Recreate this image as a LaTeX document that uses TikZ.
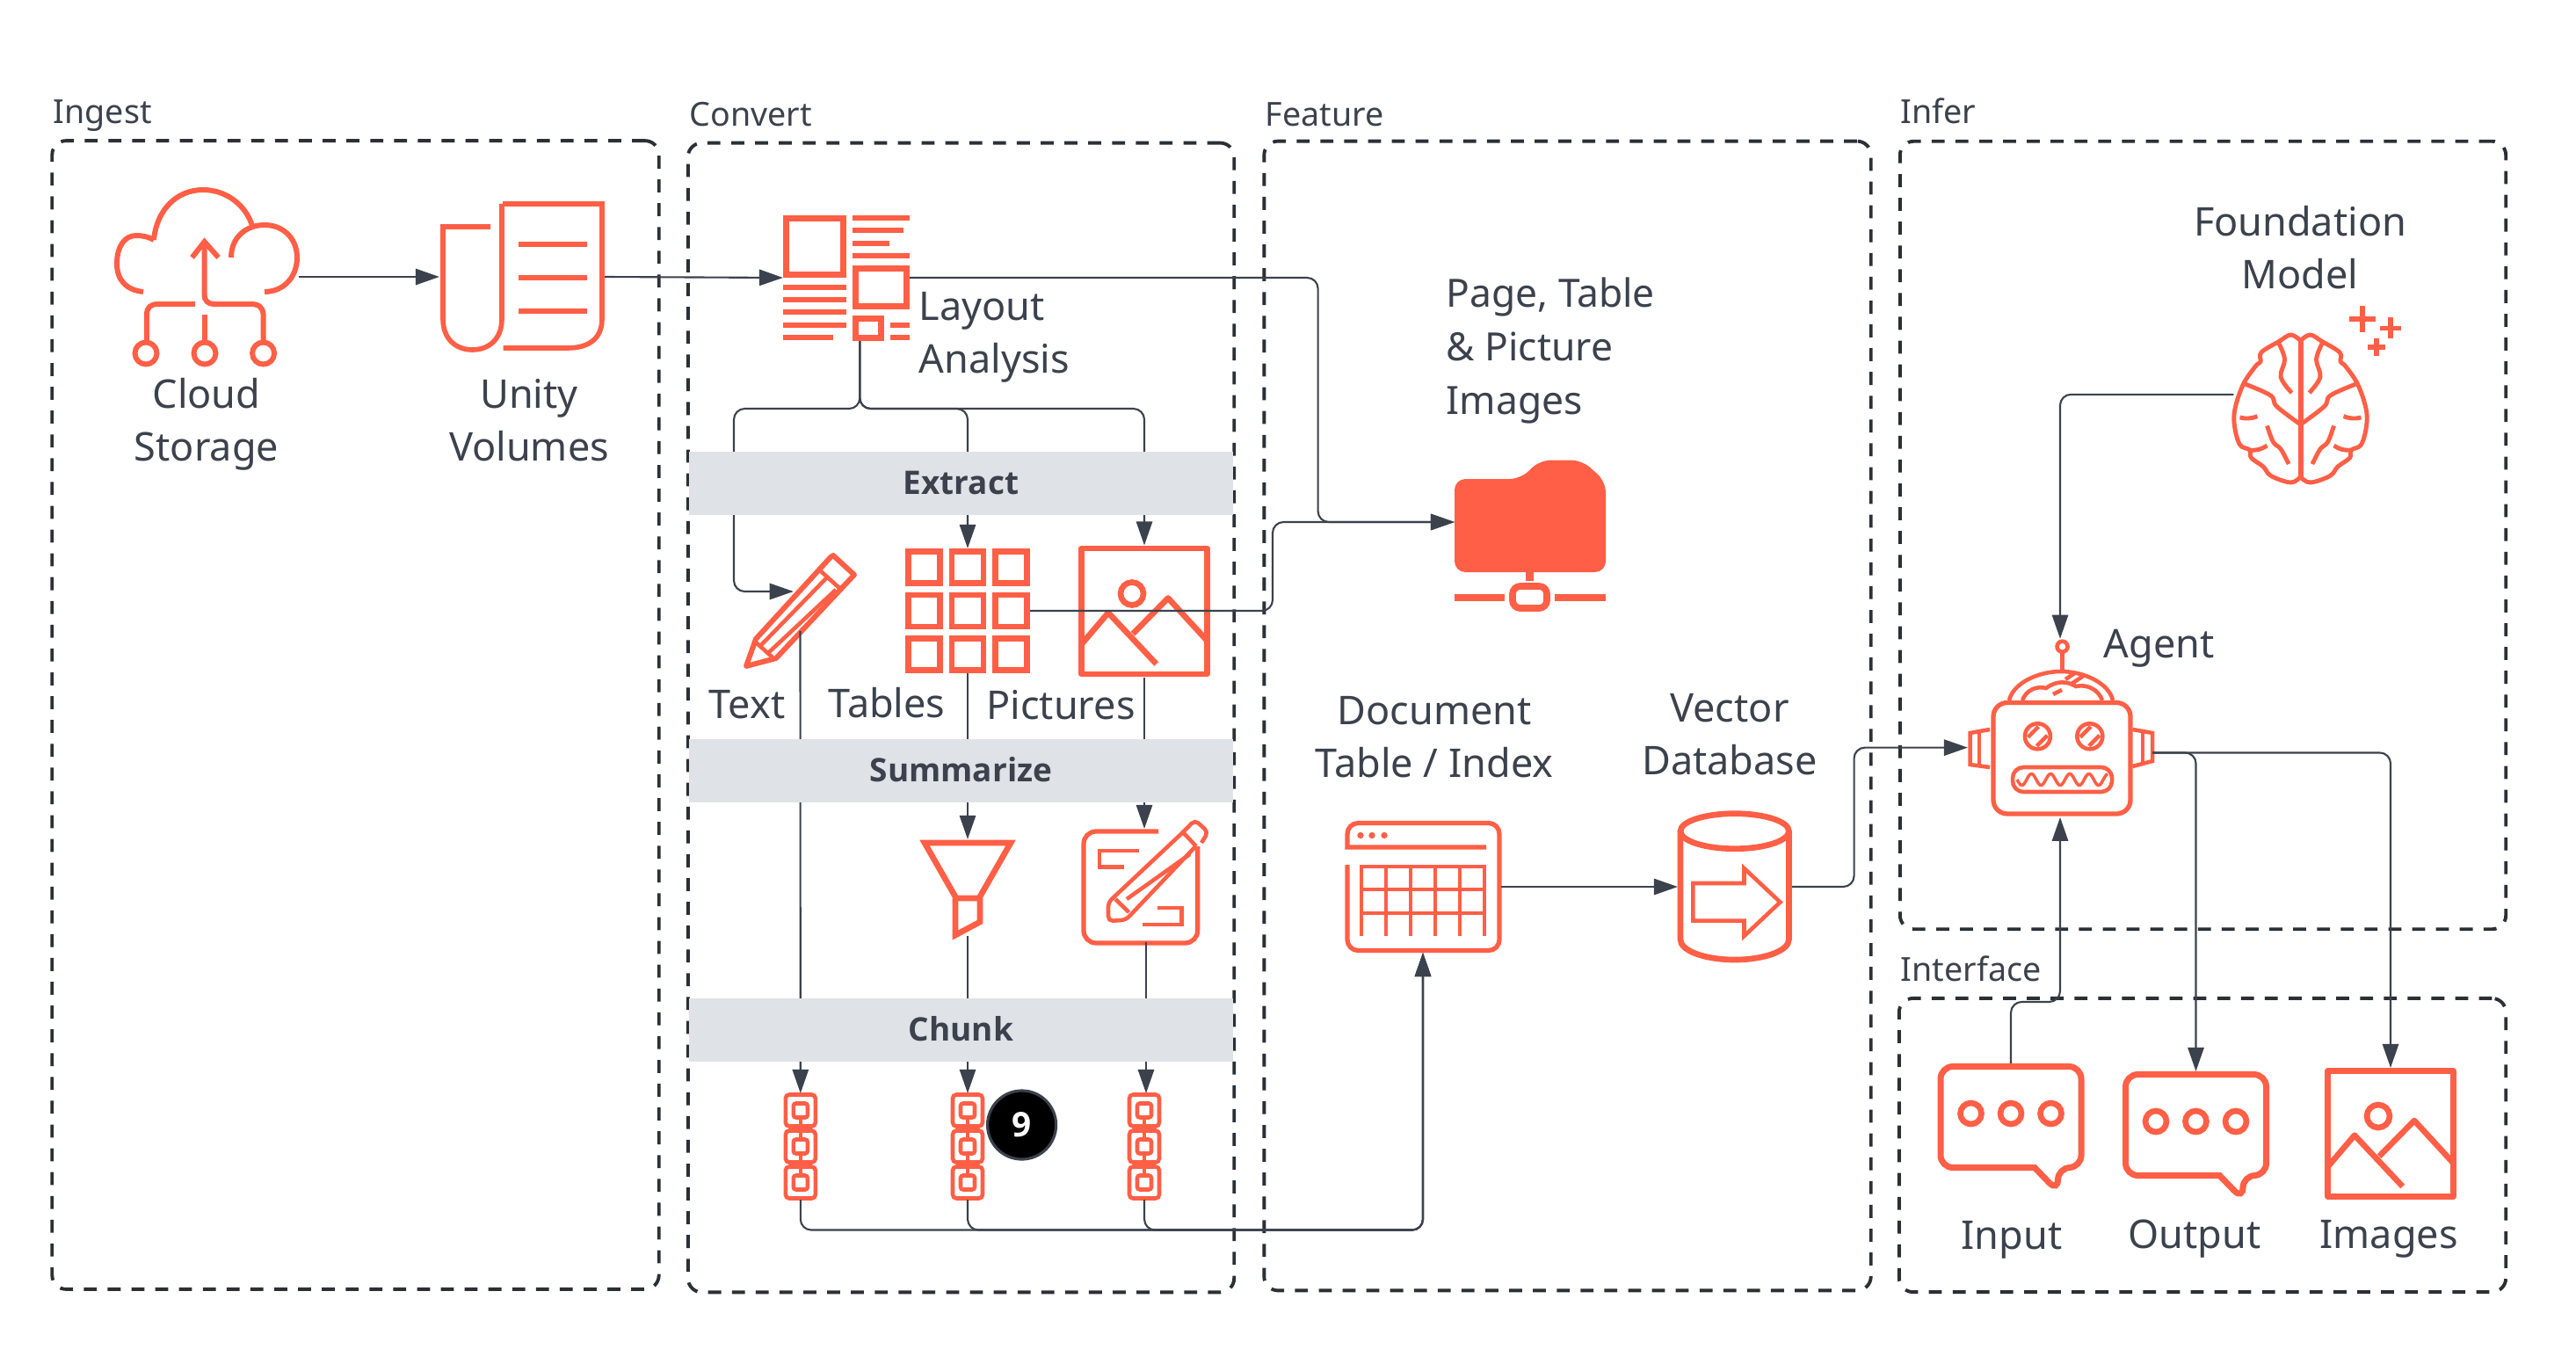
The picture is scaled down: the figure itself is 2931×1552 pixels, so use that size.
\documentclass[tikz,border=0pt]{standalone}
\usepackage{fontspec}
\setmainfont{Noto Sans}
\newfontfamily\barfont{Open Sans}
\usepackage{tikz}
\usetikzlibrary{arrows.meta}
\usepackage{xcolor}
\definecolor{iconorange}{HTML}{FF5F46}
\definecolor{inkgrey}{HTML}{3B424D}
\definecolor{dashgrey}{HTML}{2B2F36}
\definecolor{bargrey}{HTML}{DFE2E6}
\tikzset{
    icon/.style={draw=iconorange,line width=1.9pt},
    iconthin/.style={draw=iconorange,line width=1.3pt},
    iconbox/.style={inner sep=0pt,outer sep=0pt},
    sectionbox/.style={draw=dashgrey,line width=1.1pt,rounded corners=4.5pt,dash pattern=on 4.2pt off 3.5pt,inner sep=0pt},
    sectionlabel/.style={text=inkgrey,inner sep=0pt,anchor=base west,font=\fontsize{10.7}{13}\selectfont},
    iconlabel/.style={text=inkgrey,inner sep=0pt,align=center,font=\fontsize{12.8}{17}\selectfont},
    leftlabel/.style={iconlabel,align=left,anchor=west},
    stagebar/.style={fill=bargrey,inner sep=0pt,minimum width=6.19cm,minimum height=0.72cm,text=inkgrey,text height=8pt,text depth=1pt,font=\barfont\fontsize{10.5}{13}\selectfont\bfseries},
    conn/.style={draw=inkgrey,line width=0.6pt,rounded corners=3.5pt},
    connarrow/.style={conn,-{Triangle[length=7.7pt,width=5.2pt]}},
    % --- picture with sun and two mountains, used twice ---
    photoicon/.pic={
        \draw[icon,line join=round] (-71.5,-71.5) rectangle (71.5,71.5);
        \draw[icon] (-14,-20) circle [radius=13];
        \draw[icon,line join=round] (-71,37) -- (-41,1.7) -- (13.7,60);
        \draw[icon,line join=round] (-13,25.7) -- (27,-15) -- (71,33);
    },
    % --- speech bubble with three dots, used twice ---
    chaticon/.pic={
        \draw[icon,line width=2pt,rounded corners=4pt] (53.5,57.5) -- (53.5,85) [sharp corners] -- (27,57.5) [rounded corners=4pt] -- (-80,57.5) -- (-80,-57.5) -- (80,-57.5) -- (80,57.5) -- cycle;
        \foreach \dotx in {-45.5,0,45.5}
            \draw[icon] (\dotx,-4) circle [radius=12];
    },
    % --- chain of three links, used three times ---
    chainicon/.pic={
        \foreach \linky in {-41,0,41} {
            \draw[iconthin,rounded corners=1.2pt] (-17,\linky-18) rectangle (17,\linky+18);
            \draw[iconthin,rounded corners=0.8pt] (-8,\linky-8) rectangle (8,\linky+8);
        }
        \foreach \necky in {-20.5,20.5}
            \draw[draw=iconorange,line width=1.3pt] (0,\necky-12) -- (0,\necky+12);
    },
    % --- left half of the brain, mirrored for the right half ---
    brainhalf/.pic={
        \draw[iconthin,line width=1.4pt] plot[smooth,tension=0.6] coordinates {(0,77.5) (-11,84) (-33.5,76.5) (-42.4,66) (-56,56) (-58,47) (-69,41) (-75,20) (-74.5,0) (-65,-28) (-51,-48.5) (-45.5,-53.5) (-44.6,-64) (-24.5,-76.5) (-11,-84) (0,-77.5)};
        \draw[iconthin,line width=1.4pt] plot[smooth,tension=0.6] coordinates {(0,18) (-27,-2.5) (-34,-15) (-63,-28)};
        \draw[iconthin,line width=1.4pt] plot[smooth,tension=0.6] coordinates {(-24.5,-74) (-18,-56) (-22.4,-36) (-10,-18)};
        \draw[iconthin,line width=1.4pt] (-69,10) .. controls (-62,12) and (-55,11) .. (-49,8.7);
        \draw[iconthin,line width=1.4pt] plot[smooth,tension=0.6] coordinates {(-38,19.4) (-31,38) (-22.4,46) (-13.4,63)};
        \draw[iconthin,line width=1.4pt] (-58,47) .. controls (-50,48) and (-44,46) .. (-38,42);
    }
}

\begin{document}
\begin{tikzpicture}[x=0.01cm,y=-0.01cm]
    \useasboundingbox (0,0) rectangle (2931,1552);
    % --- Dashed sections and their titles ---
    \node[sectionbox,minimum width=6.90cm,minimum height=13.06cm] (ingestbox) at (404.5,813.5) {};
    \node[sectionbox,minimum width=6.21cm,minimum height=13.07cm] (convertbox) at (1093.5,816.5) {};
    \node[sectionbox,minimum width=6.90cm,minimum height=13.07cm] (featurebox) at (1783.5,814.5) {};
    \node[sectionbox,minimum width=6.89cm,minimum height=8.96cm] (inferbox) at (2506.5,609) {};
    \node[sectionbox,minimum width=6.90cm,minimum height=3.34cm] (interfacebox) at (2506,1303) {};
    \node[sectionlabel] (ingesttitle) at (60,141) {Ingest};
    \node[sectionlabel] (converttitle) at (784,143.5) {Convert};
    \node[sectionlabel] (featuretitle) at (1439,143.5) {Feature};
    \node[sectionlabel] (infertitle) at (2162,141) {Infer};
    \node[sectionlabel] (interfacetitle) at (2162,1116) {Interface};
    % --- Named places of the icons ---
    \node[iconbox,minimum width=2.10cm,minimum height=2.05cm] (cloud) at (235,315) {};
    \node[iconbox,minimum width=1.88cm,minimum height=1.68cm] (unity) at (594,315) {};
    \node[iconbox,minimum width=1.44cm,minimum height=1.44cm] (layout) at (963,316) {};
    \node[iconbox,minimum width=1.27cm,minimum height=1.30cm] (textpencil) at (910.5,695) {};
    \node[iconbox,minimum width=1.42cm,minimum height=1.42cm] (tables) at (1101,695) {};
    \node[iconbox,minimum width=1.50cm,minimum height=1.50cm] (pictures) at (1302,695.5) {};
    \node[iconbox,minimum width=1.12cm,minimum height=1.10cm] (funnel) at (1101,1010) {};
    \node[iconbox,minimum width=1.44cm,minimum height=1.29cm] (summarypen) at (1304,1007.5) {};
    \node[iconbox,minimum width=0.38cm,minimum height=1.21cm] (chaintext) at (910.8,1304.5) {};
    \node[iconbox,minimum width=0.38cm,minimum height=1.21cm] (chaintable) at (1101,1304.5) {};
    \node[iconbox,minimum width=0.38cm,minimum height=1.21cm] (chainpicture) at (1302,1304.5) {};
    \node[iconbox,minimum width=1.72cm,minimum height=1.41cm] (folder) at (1741,594) {};
    \node[iconbox,minimum width=1.77cm,minimum height=1.50cm] (doctable) at (1619,1009) {};
    \node[iconbox,minimum width=1.30cm,minimum height=1.72cm] (vectordb) at (1974,1009) {};
    \node[iconbox,minimum width=1.52cm,minimum height=1.70cm] (brain) at (2617.5,465) {};
    \node[iconbox,minimum width=2.10cm,minimum height=2.03cm] (agent) at (2344,828.3) {};
    \node[iconbox,minimum width=1.66cm,minimum height=1.22cm] (chatinput) at (2288,1271) {};
    \node[iconbox,minimum width=1.66cm,minimum height=1.22cm] (chatoutput) at (2498.5,1280) {};
    \node[iconbox,minimum width=1.50cm,minimum height=1.50cm] (images) at (2720,1290) {};
    % --- Cloud storage ---
    \draw[icon,line width=1.7pt] (163,332) .. controls (143,330) and (133,318) .. (133,300) .. controls (133,280) and (142,268) .. (155,268) .. controls (163,268) and (170,270) .. (175,273);
    \draw[icon,line width=1.7pt] (175,273) .. controls (178,240) and (200,216) .. (231,216) .. controls (258,216) and (280,234) .. (287,257);
    \draw[icon,line width=1.7pt] (263,293) .. controls (263,270) and (280,256) .. (301,256) .. controls (323,256) and (338,272) .. (338,293) .. controls (338,316) and (322,332) .. (301,332);
    \draw[icon,line width=1.7pt] (232.6,275) -- (232.6,336) .. controls (232.6,342) and (237,346) .. (243,346) -- (285,346) .. controls (294,346) and (299,349) .. (299.6,358) -- (299.6,388);
    \draw[icon,line width=1.7pt] (218.6,293) -- (232.6,275) -- (248.5,293);
    \draw[icon,line width=1.7pt] (222,346) -- (180,346) .. controls (171,346) and (167,350) .. (167,358) -- (167,388);
    \draw[icon,line width=1.7pt] (232.6,358) -- (232.6,388);
    \foreach \circlex in {166,233,299.6}
        \draw[icon,line width=1.7pt] (\circlex,402) circle [radius=12.5];
    % --- Unity volumes scroll ---
    \draw[icon,line width=1.6pt] (572,232) -- (685,232) -- (685,363) .. controls (685,385) and (670,396) .. (646,396) -- (572.5,396);
    \draw[icon,line width=1.6pt] (558,258) -- (504,258) -- (504,363) .. controls (504,385) and (518,398) .. (537.5,398) .. controls (557,398) and (571,385) .. (571,363) -- (571,232);
    \foreach \sheety in {278,316,354}
        \draw[icon,line width=1.6pt] (590,\sheety) -- (668,\sheety);
    % --- Layout analysis page ---
    \draw[icon] (894.5,248.5) rectangle (959.5,312.5);
    \draw[icon] (973.5,305.5) rectangle (1031.5,348.5);
    \draw[icon] (973.5,362.5) rectangle (1002.5,384.5);
    \foreach \linex/\liney in {1035/248,1028/262,1012/277,1035/291}
        \draw[icon] (970,\liney) -- (\linex,\liney);
    \foreach \linex/\liney in {963/327,963/341,963/355,963/370,948/384}
        \draw[icon] (891,\liney) -- (\linex,\liney);
    \foreach \liney in {370,384}
        \draw[icon] (1013,\liney) -- (1035,\liney);
    % --- Text pencil ---
    \draw[icon,line width=1.7pt,line join=round] (849,758) -- (860,727) -- (945,634) -- (948,632) -- (972,654) -- (883,749) -- cycle;
    \draw[iconthin] (934,650) -- (955,669);
    \draw[iconthin] (866,734) -- (941,657);
    \draw[iconthin] (874,743) -- (951,671);
    \draw[iconthin] (859,730) -- (879,748);
    % --- Tables grid ---
    \foreach \cellx in {1051.6,1101,1150.8}
        \foreach \celly in {645.5,695,744.7}
            \draw[icon] (\cellx-18,\celly-18) rectangle (\cellx+18,\celly+18);
    % --- Pictures ---
    \pic at (pictures) {photoicon};
    % --- Funnel ---
    \draw[icon,line join=miter] (1052,959) -- (1150,959) -- (1114,1022) -- (1088,1022) -- cycle;
    \draw[icon] (1087,1022) -- (1087,1064) -- (1115,1049) -- (1115,1022);
    % --- Pen on a page ---
    \draw[iconthin,line width=1.5pt,rounded corners=4pt] (1318,946) -- (1233,946) -- (1233,1073) -- (1362.6,1073) -- (1362.6,963);
    \draw[iconthin] (1295.6,968) -- (1251,968) -- (1251,986.7) -- (1279,986.7);
    \draw[iconthin] (1316.6,1033) -- (1344.7,1033) -- (1344.7,1052) -- (1300,1052);
    \draw[iconthin,rounded corners=1.5pt] (1360.4,963) -- (1281,1046.7) -- (1261,1048) -- (1261,1026.7) -- (1347,946) -- (1359.5,933) -- (1374.7,946.7) -- (1367,959);
    \draw[iconthin] (1269,1023) -- (1284.5,1038);
    \draw[iconthin] (1347,948) -- (1361,963);
    \draw[iconthin] (1282,1023) -- (1353.7,972);
    % --- Chains ---
    \pic at (chaintext) {chainicon};
    \pic at (chaintable) {chainicon};
    \pic at (chainpicture) {chainicon};
    % --- Folder on a network ---
    \fill[iconorange,rounded corners=3.5pt] (1655,545) -- (1730,545) -- (1752,523.6) -- (1800,523.6) -- (1827,548) -- (1827,651) -- (1655,651) -- cycle;
    \fill[iconorange] (1736,650) rectangle (1745,661);
    \draw[icon,line width=2.2pt,rounded corners=2.5pt] (1721,667) rectangle (1760,692);
    \draw[icon,line width=2.2pt] (1655,680) -- (1712,680);
    \draw[icon,line width=2.2pt] (1769,680) -- (1827,680);
    % --- Document table ---
    \draw[iconthin,line width=1.5pt] (1691,964) -- (1533,964) [rounded corners=3.5pt] -- (1533,936.5) -- (1706,936.5) -- (1706,1081.5) -- (1533,1081.5) [sharp corners] -- (1533,984);
    \foreach \dotx in {1548,1561,1575}
        \fill[iconorange] (\dotx,950.5) circle [radius=3.7];
    \foreach \gridx in {1549,1577,1605,1633,1661,1689}
        \draw[iconthin,line width=1.4pt] (\gridx,984) -- (\gridx,1065);
    \foreach \gridy in {986,1012,1039}
        \draw[iconthin,line width=1.4pt] (1547,\gridy) -- (1691,\gridy);
    % --- Vector database ---
    \draw[icon] (1973.7,945.7) ellipse [x radius=61.7,y radius=20];
    \draw[icon] (1912,945.7) -- (1912,1069) .. controls (1912,1082) and (1940,1092) .. (1973.7,1092) .. controls (2007,1092) and (2035.4,1082) .. (2035.4,1069) -- (2035.4,945.7);
    \draw[iconthin,line join=miter] (1926.4,1005) -- (1984.5,1005) -- (1984.5,988) -- (2025.5,1026.5) -- (1984.5,1065) -- (1984.5,1047.6) -- (1926.4,1047.6) -- cycle;
    % --- Foundation model brain with sparkles ---
    \pic at (brain) {brainhalf};
    \pic[xscale=-1] at (brain) {brainhalf};
    \draw[icon,line width=1.7pt] (2617.5,388) -- (2617.5,543);
    \foreach \plusx/\plusy/\plusr in {2688/363.3/15,2720/373.5/12,2703.6/395/10} {
        \draw[icon,line width=1.7pt] (\plusx-\plusr,\plusy) -- (\plusx+\plusr,\plusy);
        \draw[icon,line width=1.7pt] (\plusx,\plusy-\plusr) -- (\plusx,\plusy+\plusr);
    }
    % --- Agent robot ---
    \draw[iconthin,line width=1.5pt,rounded corners=4.5pt] (2268,799.5) rectangle (2424,926);
    \draw[iconthin] (2264,830) -- (2241.6,834) -- (2241.6,870) -- (2264,873);
    \draw[iconthin] (2252,831.5) -- (2252,871.5);
    \draw[iconthin] (2426.4,830) -- (2449,834) -- (2449,866) -- (2426.4,872);
    \draw[iconthin] (2438,832) -- (2438,869);
    \draw[iconthin] (2286,797) .. controls (2290,778) and (2318,764) .. (2345,764) .. controls (2372,764) and (2400,778) .. (2404,797);
    \draw[iconthin] (2301,797) .. controls (2305,785) and (2318,780) .. (2328,783) .. controls (2340,774) and (2352,775) .. (2362,781) .. controls (2375,778) and (2388,785) .. (2392,797);
    \draw[iconthin] (2350,773) -- (2362,765);
    \draw[iconthin] (2357,778) -- (2372,768);
    \draw[iconthin] (2336,790) -- (2346,785);
    \draw[iconthin] (2346.5,764) -- (2346.5,742);
    \draw[iconthin] (2346.5,735.7) circle [radius=6];
    \foreach \eyex in {2318.4,2377.8} {
        \draw[iconthin] (\eyex,837.8) circle [radius=14.5];
        \draw[iconthin] (\eyex-11,837.8+1) -- (\eyex+1,837.8-11);
        \draw[iconthin] (\eyex-1,837.8+11) -- (\eyex+11,837.8-1);
    }
    \draw[iconthin,rounded corners=3.5pt] (2290,873) rectangle (2403,901);
    \draw[iconthin,line width=1pt] plot[domain=2295:2398,samples=90,smooth] (\x,{887+6.5*sin((\x-2295)*16.5)});
    % --- Interface icons ---
    \pic at (chatinput) {chaticon};
    \pic at (chatoutput) {chaticon};
    \pic at (images) {photoicon};
    % --- Connectors ---
    \coordinate (pencilin) at (902.8,673);
    \coordinate (pencilturn) at (835,600);
    \coordinate (layoutturn) at (1499.6,594);
    \coordinate (tablesturn) at (1448,594);
    \draw[connarrow] (cloud.east) -- (unity.west);
    \draw[connarrow] (unity.east) -- (layout.west);
    \draw[connarrow] (layout.east) -| (layoutturn) -- (folder.west);
    \draw[connarrow] (tables.east) -| (tablesturn) -- (folder.west);
    \draw[connarrow] (layout.-78.6) -- ++(0,77) -| (pencilturn) |- (pencilin);
    \draw[connarrow] (layout.-78.6) -- ++(0,77) -| (tables.north);
    \draw[connarrow] (layout.-78.6) -- ++(0,77) -| (pictures.north);
    \draw[connarrow] (textpencil.south) ++(0,-42) -- (chaintext.north);
    \draw[connarrow] (tables.south) -- (funnel.north);
    \draw[connarrow] (funnel.south) -- (chaintable.north);
    \draw[connarrow] (pictures.south) -- (pictures.south |- summarypen.north);
    \draw[connarrow] (summarypen.south) -- (summarypen.south |- chainpicture.north);
    \draw[connarrow] (chaintext.south) -- ++(0,34.5) -| (doctable.south);
    \draw[connarrow] (chaintable.south) -- ++(0,34.5) -| (doctable.south);
    \draw[connarrow] (chainpicture.south) -- ++(0,34.5) -| (doctable.south);
    \draw[connarrow] (doctable.east) -- (vectordb.west);
    \draw[connarrow] (vectordb.east) -- ++(70.5,0) |- (agent.192.5);
    \draw[connarrow] (brain.168) -| (agent.north);
    \draw[connarrow] (chatinput.north) -- ++(0,-70) -| (agent.south);
    \draw[connarrow] (agent.-15) -| (chatoutput.north);
    \draw[connarrow] (agent.-15) -| (images.north);
    % --- Stage bars, over the connectors ---
    \node[stagebar] (extractbar) at (1093.5,550) {Extract};
    \node[stagebar] (summarizebar) at (1093.5,877) {Summarize};
    \node[stagebar] (chunkbar) at (1093.5,1172) {Chunk};
    % --- Badge ---
    \node[circle,fill=black,draw=inkgrey,line width=0.9pt,minimum size=0.78cm,inner sep=0pt,text=white,font=\barfont\fontsize{11}{13}\selectfont\bfseries] (badge) at (1162.6,1280) {9};
    % --- Labels ---
    \node[iconlabel] (cloudlabel) at (235,483) {Cloud\\Storage};
    \node[iconlabel] (unitylabel) at (602,478) {Unity\\Volumes};
    \node[leftlabel] (layoutlabel) at (1045,384) {Layout\\Analysis};
    \node[iconlabel] (textlabel) at (850,802) {Text};
    \node[iconlabel] (tableslabel) at (1009,800) {Tables};
    \node[iconlabel] (pictureslabel) at (1207,802) {Pictures};
    \node[leftlabel,font=\fontsize{12.6}{17.4}\selectfont] (pagelabel) at (1645,399) {Page, Table\\\& Picture\\Images};
    \node[iconlabel] (doclabel) at (1632,839) {Document\\Table / Index};
    \node[iconlabel] (vectorlabel) at (1968,836) {Vector\\Database};
    \node[iconlabel] (foundationlabel) at (2617,282) {Foundation\\Model};
    \node[leftlabel] (agentlabel) at (2393,738) {Agent};
    \node[iconlabel] (inputlabel) at (2289,1411) {Input};
    \node[iconlabel] (outputlabel) at (2497,1410) {Output};
    \node[iconlabel] (imageslabel) at (2718,1410) {Images};
\end{tikzpicture}
\end{document}
